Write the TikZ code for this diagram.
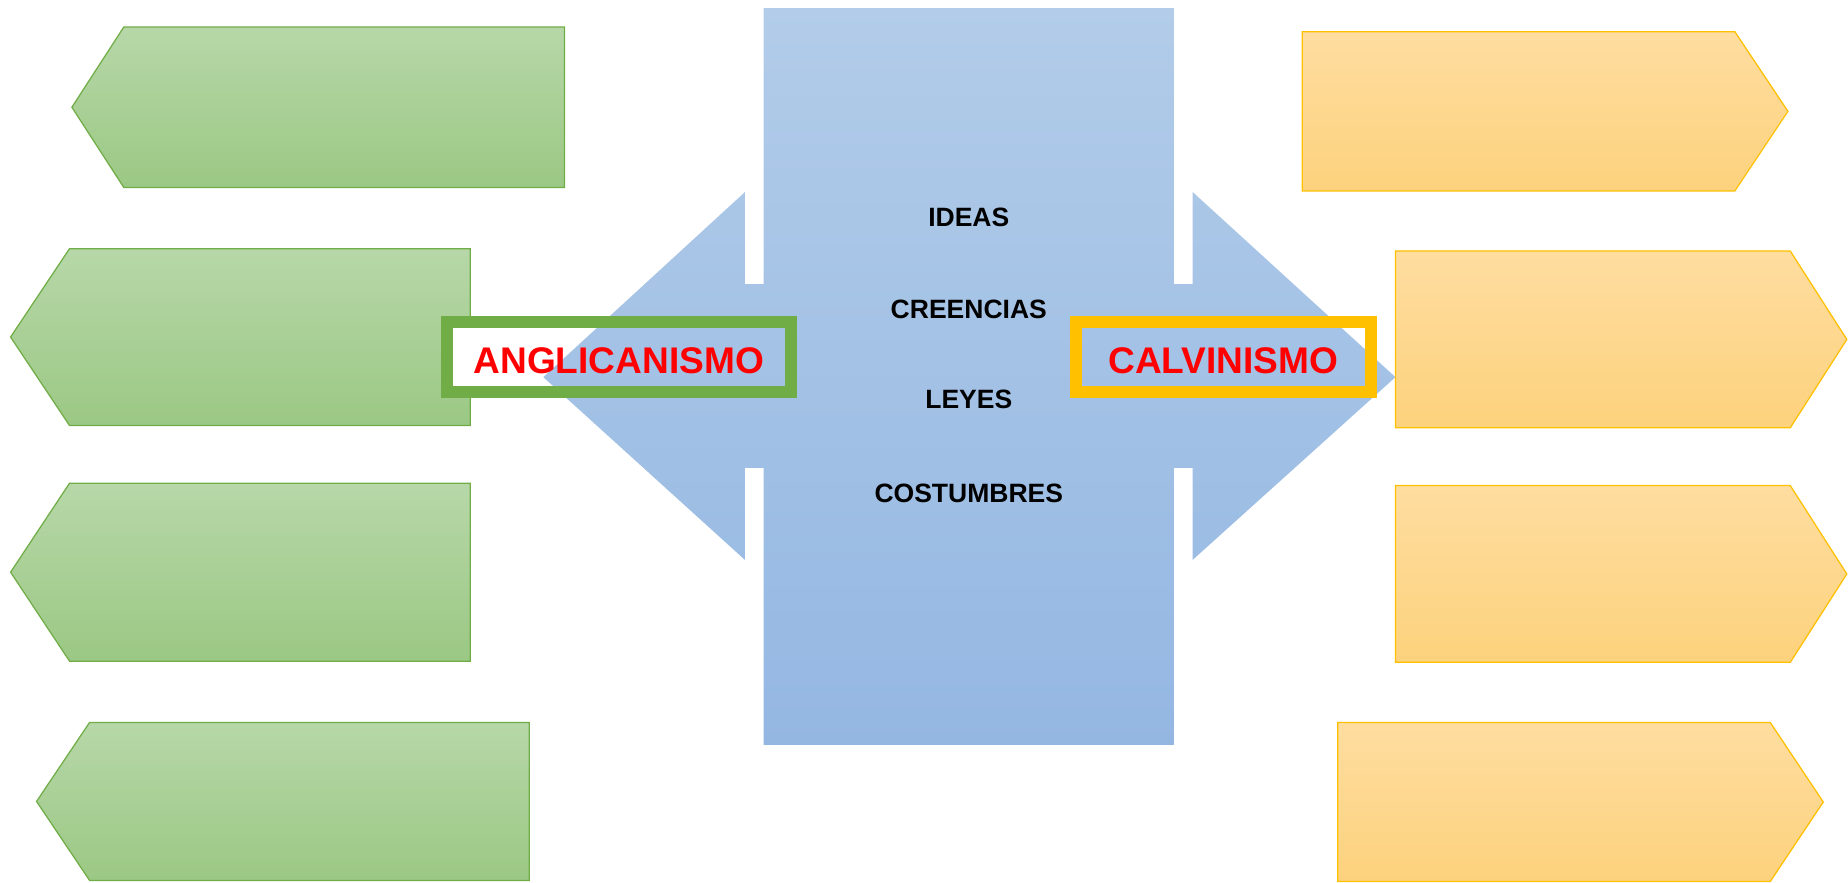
\documentclass[tikz,border=0pt]{standalone}
\usepackage{fontspec}
\setmainfont{Liberation Sans}
\usepackage{tikz}
\usetikzlibrary{positioning}
\definecolor{SkyTop}{HTML}{B2CCE9}
\definecolor{SkyBot}{HTML}{94B7E2}
\definecolor{LeafTop}{HTML}{B7D7A8}
\definecolor{LeafBot}{HTML}{9BC884}
\definecolor{LeafEdge}{HTML}{70AD47}
\definecolor{GoldTop}{HTML}{FEDDA0}
\definecolor{GoldBot}{HTML}{FDD27D}
\definecolor{GoldEdge}{HTML}{FFC000}

\begin{document}
\begin{tikzpicture}[x=0.02cm, y=-0.02cm,
    leafbox/.style={draw=LeafEdge, line width=0.6pt, top color=LeafTop, bottom color=LeafBot},
    goldbox/.style={draw=GoldEdge, line width=0.6pt, top color=GoldTop, bottom color=GoldBot},
    keyword/.style={font=\bfseries\fontsize{12.8}{15}\selectfont, anchor=base, inner sep=0pt},
    faithbox/.style={draw=#1, line width=0.2cm, text=red, font=\bfseries\fontsize{17.9}{20}\selectfont,
        minimum height=1.18cm, inner sep=0pt, text height=15.6pt, text depth=0pt}]
    \useasboundingbox (0,0) rectangle (1568,749);
    % Left boxes, pointing left
    \foreach \t/\n/\r/\a/\b in {61/105/479/23/159, 9/59/399/211/361, 9/59/399/410/561, 31/76/449/613/747} {
        \draw[leafbox] (\t,{(\a+\b)/2}) -- (\n,\a) -- (\r,\a) -- (\r,\b) -- (\n,\b) -- cycle;
    }
    % Right boxes, pointing right
    \foreach \l/\n/\t/\a/\b in {1105/1472/1517/27/162, 1184/1519/1567/213/363, 1184/1519/1567/412/562, 1135/1502/1547/613/748} {
        \draw[goldbox] (\l,\a) -- (\n,\a) -- (\t,{(\a+\b)/2}) -- (\n,\b) -- (\l,\b) -- cycle;
    }
    \fill[white] (374,268) rectangle (676,337);
    \fill[white] (908,268) rectangle (1168,337);
    % Central block with arrows both ways
    \shade[top color=SkyTop, bottom color=SkyBot]
        (648,7) -- (996,7) -- (996,241) -- (1012,241) -- (1012,163) -- (1184,320)
        -- (1012,475) -- (1012,397) -- (996,397) -- (996,632) -- (648,632) -- (648,397)
        -- (632,397) -- (632,475) -- (461,320) -- (632,163) -- (632,241) -- (648,241) -- cycle;
    \node[keyword] (ideas) at (822,192) {IDEAS};
    \node[keyword] (creencias) at (822,270) {CREENCIAS};
    \node[keyword] (leyes) at (822,347) {LEYES};
    \node[keyword] (costumbres) at (822,426) {COSTUMBRES};
    \node[faithbox=LeafEdge, minimum width=5.84cm] (angli) at (525,303) {ANGLICANISMO};
    \node[faithbox=GoldEdge, minimum width=5.0cm] (calvi) at (1038,303) {CALVINISMO};
\end{tikzpicture}
\end{document}
